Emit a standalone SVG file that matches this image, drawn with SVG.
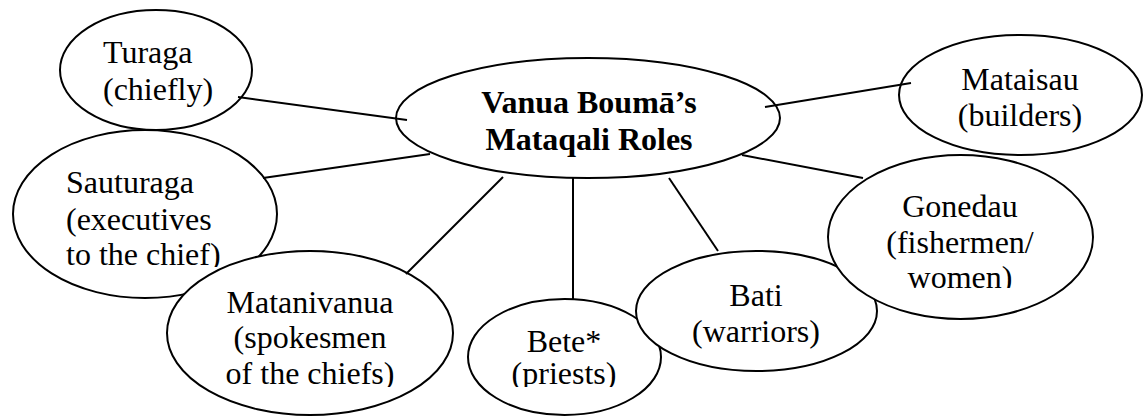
<svg xmlns="http://www.w3.org/2000/svg" width="1143" height="417" viewBox="0 0 1143 417">
  <style>
    .node ellipse { fill: #ffffff; stroke: #000000; stroke-width: 2; }
    .node text { font-family: 'Liberation Serif', Tinos, 'DejaVu Serif', serif; font-weight: 400; font-style: normal; font-size: 32px; fill: #000000; }
    .mid { text-anchor: middle; }
    .node.hub text { font-weight: 700; }
    #connectors line { stroke: #000000; stroke-width: 2; }
  </style>
  <defs>
    <!-- text boxes cut their last line just below the baseline -->
    <clipPath id="clip-sauturaga"><rect x="0" y="140" width="280" height="127"/></clipPath>
    <clipPath id="clip-matanivanua"><rect x="170" y="280" width="280" height="107"/></clipPath>
    <clipPath id="clip-bete"><rect x="470" y="320" width="190" height="67"/></clipPath>
    <clipPath id="clip-gonedau"><rect x="830" y="180" width="260" height="108"/></clipPath>
  </defs>
  <rect width="1143" height="417" fill="#ffffff"/>

  <g id="turaga" class="node">
    <ellipse cx="156" cy="70" rx="96" ry="60"/>
    <text x="103" y="63" font-size="29">Turaga</text>
    <text x="103" y="100" font-size="29">(chiefly)</text>
  </g>

  <g id="sauturaga" class="node">
    <ellipse cx="145" cy="214" rx="132" ry="84"/>
    <g clip-path="url(#clip-sauturaga)">
      <text x="66" y="193">Sauturaga</text>
      <text x="66" y="230">(executives</text>
      <text x="66" y="265">to the chief)</text>
    </g>
  </g>

  <g id="matanivanua" class="node">
    <ellipse cx="310" cy="333" rx="143" ry="82"/>
    <g clip-path="url(#clip-matanivanua)">
      <text class="mid" x="310" y="313">Matanivanua</text>
      <text class="mid" x="310" y="348">(spokesmen</text>
      <text class="mid" x="310" y="384">of the chiefs)</text>
    </g>
  </g>

  <g id="bete" class="node">
    <ellipse cx="564.5" cy="357" rx="96.5" ry="58"/>
    <g clip-path="url(#clip-bete)">
      <text class="mid" x="564" y="352">Bete*</text>
      <text class="mid" x="564" y="384">(priests)</text>
    </g>
  </g>

  <g id="bati" class="node">
    <ellipse cx="756.5" cy="311" rx="120.5" ry="60"/>
    <text class="mid" x="756" y="306">Bati</text>
    <text class="mid" x="756" y="342">(warriors)</text>
  </g>

  <g id="gonedau" class="node">
    <ellipse cx="960.5" cy="237" rx="132.5" ry="82"/>
    <g clip-path="url(#clip-gonedau)">
      <text class="mid" x="960" y="217">Gonedau</text>
      <text class="mid" x="960" y="253">(fishermen/</text>
      <text class="mid" x="960" y="288">women)</text>
    </g>
  </g>

  <g id="mataisau" class="node">
    <ellipse cx="1020.5" cy="95" rx="121.5" ry="60"/>
    <text class="mid" x="1020" y="90">Mataisau</text>
    <text class="mid" x="1020" y="126">(builders)</text>
  </g>

  <g id="mataqali-roles" class="node hub">
    <ellipse cx="588" cy="118" rx="192" ry="60"/>
    <text class="mid" x="589" y="113">Vanua Boumā’s</text>
    <text class="mid" x="589" y="150">Mataqali Roles</text>
  </g>

  <g id="connectors">
    <line x1="238" y1="97" x2="407" y2="120"/>
    <line x1="263" y1="178" x2="430" y2="154"/>
    <line x1="406" y1="274" x2="503" y2="177"/>
    <line x1="573" y1="178" x2="573" y2="299"/>
    <line x1="669" y1="178" x2="718" y2="251"/>
    <line x1="742" y1="155" x2="863" y2="178"/>
    <line x1="765" y1="107" x2="911" y2="83"/>
  </g>
</svg>
